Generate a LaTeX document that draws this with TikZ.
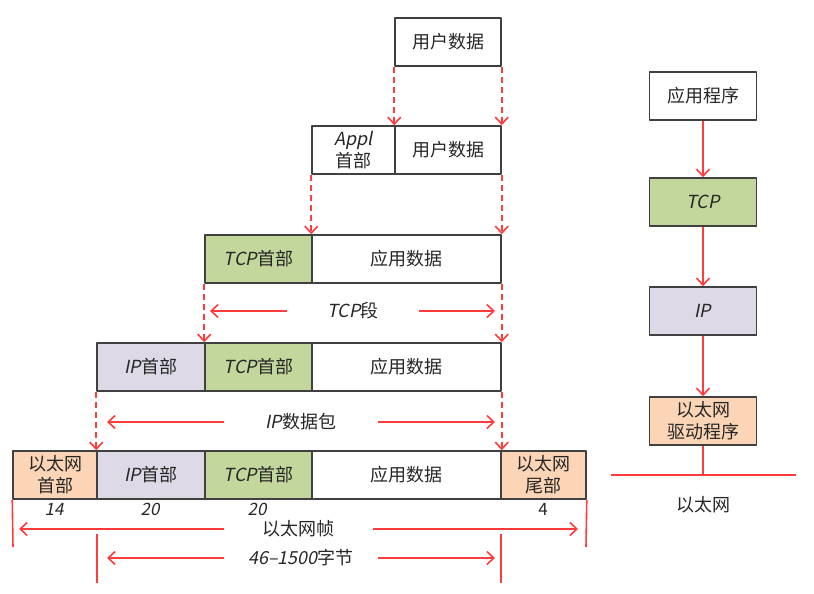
\documentclass[tikz,border=0pt]{standalone}
\usepackage{fontspec}
\setmainfont{Noto Sans CJK SC}[AutoFakeSlant=0.2]
\usetikzlibrary{arrows.meta}
\definecolor{boxline}{HTML}{404040}
\definecolor{arrred}{HTML}{FF3B3B}
\definecolor{tcpgreen}{HTML}{C3D69B}
\definecolor{iplilac}{HTML}{DDD9E6}
\definecolor{ethpeach}{HTML}{FBD5B5}
\begin{document}
\begin{tikzpicture}[x=1pt, y=-1pt, font=\fontsize{18}{22}\selectfont, line join=round,
  >={Straight Barb[length=7pt,width=13pt]},
  box/.style={draw=boxline, line width=1.5pt, minimum height=48pt, inner sep=0pt, align=center, text=black!85},
  link/.style={draw=arrred, line width=1.6pt},
  dlink/.style={link, dash pattern=on 6pt off 4pt},
  span/.style={minimum width=#1, inner sep=0pt, text=black!85},
  num/.style={font=\fontsize{17}{20}\selectfont, text=black!85}]
\useasboundingbox (0,0) rectangle (814,594);
\node[box, minimum width=106pt] (user1) at (448,42) {用户数据};
\node[box, minimum width=83pt] (appl2) at (353.5,150) {\textit{Appl}\\首部};
\node[box, minimum width=106pt] (user2) at (448,150) {用户数据};
\node[box, minimum width=107pt, fill=tcpgreen] (tcph3) at (258.5,259) {\textit{TCP}首部};
\node[box, minimum width=189pt] (app3) at (406.5,259) {应用数据};
\node[box, minimum width=108pt, fill=iplilac] (iph4) at (151,367) {\textit{IP}首部};
\node[box, minimum width=107pt, fill=tcpgreen] (tcph4) at (258.5,367) {\textit{TCP}首部};
\node[box, minimum width=189pt] (app4) at (406.5,367) {应用数据};
\node[box, minimum width=84pt, fill=ethpeach] (ethh5) at (55,475) {以太网\\首部};
\node[box, minimum width=108pt, fill=iplilac] (iph5) at (151,475) {\textit{IP}首部};
\node[box, minimum width=107pt, fill=tcpgreen] (tcph5) at (258.5,475) {\textit{TCP}首部};
\node[box, minimum width=189pt] (app5) at (406.5,475) {应用数据};
\node[box, minimum width=85pt, fill=ethpeach] (etht5) at (543.5,475) {以太网\\尾部};
\draw[dlink,->] (user1.south west) -- (user2.north west);
\draw[dlink,->] (user1.south east) -- (user2.north east);
\draw[dlink,->] (appl2.south west) -- (app3.north west);
\draw[dlink,->] (user2.south east) -- (app3.north east);
\draw[dlink,->] (tcph3.south west) -- (tcph4.north west);
\draw[dlink,->] (app3.south east) -- (app4.north east);
\draw[dlink,->] (iph4.south west) -- (iph5.north west);
\draw[dlink,->] (app4.south east) -- (app5.north east);
\node[span=132pt] (tcpseg) at (353,311) {\textit{TCP}段};
\coordinate (tcpsegL) at (210,311);
\coordinate (tcpsegR) at (495,311);
\draw[link,->] (tcpseg.west) -- (tcpsegL);
\draw[link,->] (tcpseg.east) -- (tcpsegR);
\node[span=154pt] (ipdgram) at (301,422) {\textit{IP}数据包};
\coordinate (ipdgramL) at (107,422);
\coordinate (ipdgramR) at (495,422);
\draw[link,->] (ipdgram.west) -- (ipdgramL);
\draw[link,->] (ipdgram.east) -- (ipdgramR);
\node[num] (len14) at (54,509) {\textit{14}};
\node[num] (len20a) at (150,509) {\textit{20}};
\node[num] (len20b) at (257,509) {\textit{20}};
\node[num] (len4) at (543,509) {4};
\node[span=149pt] (frame) at (298.5,529) {以太网帧};
\coordinate (frameL) at (19,529);
\coordinate (frameR) at (578,529);
\draw[link,->] (frame.west) -- (frameL);
\draw[link,->] (frame.east) -- (frameR);
\coordinate (frameLb) at (13,547);
\coordinate (frameRb) at (586,547);
\draw[link] (ethh5.south west) -- (frameLb);
\draw[link] (etht5.south east) -- (frameRb);
\node[span=154pt] (payload) at (301,558) {\textit{46–1500}字节};
\coordinate (payloadL) at (107,558);
\coordinate (payloadR) at (495,558);
\draw[link,->] (payload.west) -- (payloadL);
\draw[link,->] (payload.east) -- (payloadR);
\coordinate (dataLt) at (97,534);
\coordinate (dataLb) at (97,583);
\coordinate (dataRt) at (501,534);
\coordinate (dataRb) at (501,583);
\draw[link] (dataLt) -- (dataLb);
\draw[link] (dataRt) -- (dataRb);
\node[box, minimum width=107pt] (app) at (703,96) {应用程序};
\node[box, minimum width=107pt, fill=tcpgreen] (tcp) at (703,202) {\textit{TCP}};
\node[box, minimum width=107pt, fill=iplilac] (ip) at (703,311) {\textit{IP}};
\node[box, minimum width=107pt, fill=ethpeach] (eth) at (703,421) {以太网\\驱动程序};
\draw[link,->] (app) -- (tcp);
\draw[link,->] (tcp) -- (ip);
\draw[link,->] (ip) -- (eth);
\coordinate (wire) at (703,475);
\coordinate (wireL) at (611,475);
\coordinate (wireR) at (796,475);
\draw[link] (eth) -- (wire);
\draw[link] (wireL) -- (wireR);
\node[span=0pt] (ethnet) at (703,505) {以太网};
\end{tikzpicture}
\end{document}
